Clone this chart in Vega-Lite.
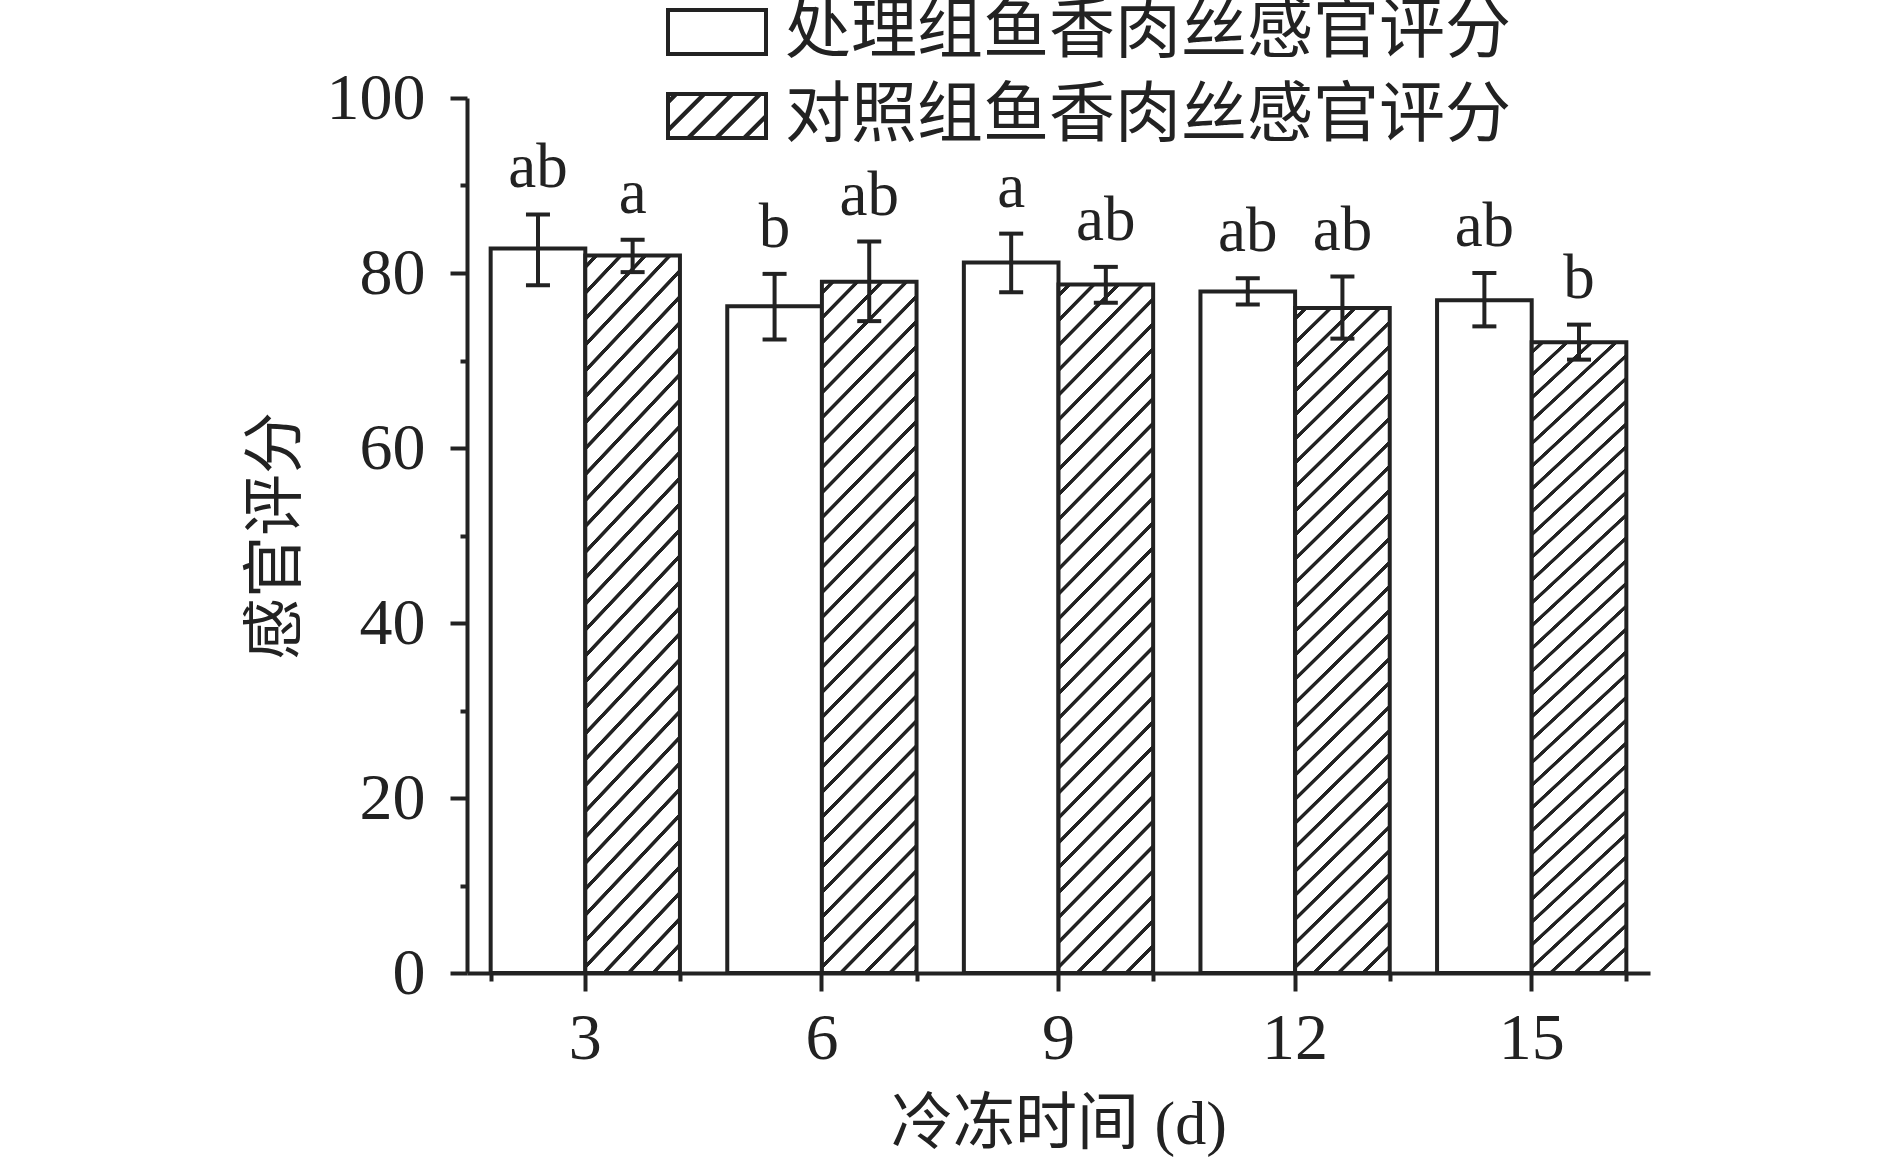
{
  "$schema": "https://vega.github.io/schema/vega-lite/v6.json",
  "width": 1183,
  "height": 875,
  "autosize": {"type": "none"},
  "padding": {"left": 467, "top": 98, "right": 240, "bottom": 188},
  "background": "white",
  "config": {
    "view": {"stroke": null},
    "axis": {
      "domainColor": "#222", "domainWidth": 4, "tickColor": "#222", "tickWidth": 4,
      "labelColor": "#222", "labelFont": "Liberation Serif", "labelFontSize": 66,
      "titleFont": "Liberation Serif, Noto Sans CJK SC", "titleFontSize": 62,
      "titleFontWeight": "normal", "titleColor": "#222", "grid": false
    }
  },
  "data": {
    "values": [
      {"day": 3, "group": "处理组鱼香肉丝感官评分", "score": 82.8, "lo": 78.6, "hi": 86.7, "letter": "ab"},
      {"day": 3, "group": "对照组鱼香肉丝感官评分", "score": 82.0, "lo": 80.1, "hi": 83.8, "letter": "a"},
      {"day": 6, "group": "处理组鱼香肉丝感官评分", "score": 76.2, "lo": 72.4, "hi": 79.9, "letter": "b"},
      {"day": 6, "group": "对照组鱼香肉丝感官评分", "score": 79.0, "lo": 74.5, "hi": 83.6, "letter": "ab"},
      {"day": 9, "group": "处理组鱼香肉丝感官评分", "score": 81.2, "lo": 77.8, "hi": 84.5, "letter": "a"},
      {"day": 9, "group": "对照组鱼香肉丝感官评分", "score": 78.7, "lo": 76.6, "hi": 80.7, "letter": "ab"},
      {"day": 12, "group": "处理组鱼香肉丝感官评分", "score": 77.9, "lo": 76.4, "hi": 79.4, "letter": "ab"},
      {"day": 12, "group": "对照组鱼香肉丝感官评分", "score": 76.0, "lo": 72.5, "hi": 79.6, "letter": "ab"},
      {"day": 15, "group": "处理组鱼香肉丝感官评分", "score": 76.9, "lo": 73.9, "hi": 80.0, "letter": "ab"},
      {"day": 15, "group": "对照组鱼香肉丝感官评分", "score": 72.1, "lo": 70.1, "hi": 74.1, "letter": "b"}
    ]
  },
  "layer": [
    {
      "mark": {"type": "bar", "stroke": "#222", "strokeWidth": 4},
      "encoding": {
        "x": {"field": "day", "type": "ordinal", "scale": {"paddingInner": 0.2, "paddingOuter": 0.1},
          "axis": {"orient": "bottom", "title": "冷冻时间 (d)", "labelAngle": 0, "tickSize": 18, "labelPadding": 15, "titlePadding": 23}},
        "xOffset": {"field": "group", "type": "nominal", "scale": {"domain": ["处理组鱼香肉丝感官评分", "对照组鱼香肉丝感官评分"]}},
        "y": {"field": "score", "type": "quantitative", "scale": {"domain": [0, 100]},
          "axis": {"orient": "left", "title": "感官评分", "values": [0, 20, 40, 60, 80, 100], "tickSize": 17, "labelPadding": 25, "titlePadding": 18}},
        "fill": {
          "field": "group", "type": "nominal",
          "scale": {"domain": ["处理组鱼香肉丝感官评分", "对照组鱼香肉丝感官评分"], "range": ["white", {"expr": "{gradient: 'linear', x1: 0, y1: 0, x2: 1.321, y2: 0.593, stops: [{offset: 0.03, color: '#fff'}, {offset: 0.036, color: '#222'}, {offset: 0.069, color: '#222'}, {offset: 0.075, color: '#fff'}, {offset: 0.21, color: '#fff'}, {offset: 0.216, color: '#222'}, {offset: 0.249, color: '#222'}, {offset: 0.255, color: '#fff'}, {offset: 0.39, color: '#fff'}, {offset: 0.396, color: '#222'}, {offset: 0.429, color: '#222'}, {offset: 0.435, color: '#fff'}, {offset: 0.57, color: '#fff'}, {offset: 0.576, color: '#222'}, {offset: 0.609, color: '#222'}, {offset: 0.615, color: '#fff'}, {offset: 0.75, color: '#fff'}, {offset: 0.756, color: '#222'}, {offset: 0.789, color: '#222'}, {offset: 0.795, color: '#fff'}, {offset: 0.93, color: '#fff'}, {offset: 0.936, color: '#222'}, {offset: 0.969, color: '#222'}, {offset: 0.975, color: '#fff'}]}"}]},
          "condition": {"test": "datum.group === '对照组鱼香肉丝感官评分'", "value": {
            "gradient": "linear", "x1": 0, "y1": 0, "x2": 0.1647, "y2": 1.181,
            "stops": [
              {"offset":0.010,"color":"#fff"},{"offset":0.011,"color":"#222"},{"offset":0.016,"color":"#222"},{"offset":0.017,"color":"#fff"},
              {"offset":0.040,"color":"#fff"},{"offset":0.041,"color":"#222"},{"offset":0.046,"color":"#222"},{"offset":0.047,"color":"#fff"},
              {"offset":0.070,"color":"#fff"},{"offset":0.071,"color":"#222"},{"offset":0.076,"color":"#222"},{"offset":0.077,"color":"#fff"},
              {"offset":0.100,"color":"#fff"},{"offset":0.101,"color":"#222"},{"offset":0.106,"color":"#222"},{"offset":0.107,"color":"#fff"},
              {"offset":0.130,"color":"#fff"},{"offset":0.131,"color":"#222"},{"offset":0.136,"color":"#222"},{"offset":0.137,"color":"#fff"},
              {"offset":0.160,"color":"#fff"},{"offset":0.161,"color":"#222"},{"offset":0.166,"color":"#222"},{"offset":0.167,"color":"#fff"},
              {"offset":0.190,"color":"#fff"},{"offset":0.191,"color":"#222"},{"offset":0.196,"color":"#222"},{"offset":0.197,"color":"#fff"},
              {"offset":0.220,"color":"#fff"},{"offset":0.221,"color":"#222"},{"offset":0.226,"color":"#222"},{"offset":0.227,"color":"#fff"},
              {"offset":0.250,"color":"#fff"},{"offset":0.251,"color":"#222"},{"offset":0.256,"color":"#222"},{"offset":0.257,"color":"#fff"},
              {"offset":0.280,"color":"#fff"},{"offset":0.281,"color":"#222"},{"offset":0.286,"color":"#222"},{"offset":0.287,"color":"#fff"},
              {"offset":0.310,"color":"#fff"},{"offset":0.311,"color":"#222"},{"offset":0.316,"color":"#222"},{"offset":0.317,"color":"#fff"},
              {"offset":0.340,"color":"#fff"},{"offset":0.341,"color":"#222"},{"offset":0.346,"color":"#222"},{"offset":0.347,"color":"#fff"},
              {"offset":0.370,"color":"#fff"},{"offset":0.371,"color":"#222"},{"offset":0.376,"color":"#222"},{"offset":0.377,"color":"#fff"},
              {"offset":0.400,"color":"#fff"},{"offset":0.401,"color":"#222"},{"offset":0.406,"color":"#222"},{"offset":0.407,"color":"#fff"},
              {"offset":0.430,"color":"#fff"},{"offset":0.431,"color":"#222"},{"offset":0.436,"color":"#222"},{"offset":0.437,"color":"#fff"},
              {"offset":0.460,"color":"#fff"},{"offset":0.461,"color":"#222"},{"offset":0.466,"color":"#222"},{"offset":0.467,"color":"#fff"},
              {"offset":0.490,"color":"#fff"},{"offset":0.491,"color":"#222"},{"offset":0.496,"color":"#222"},{"offset":0.497,"color":"#fff"},
              {"offset":0.520,"color":"#fff"},{"offset":0.521,"color":"#222"},{"offset":0.526,"color":"#222"},{"offset":0.527,"color":"#fff"},
              {"offset":0.550,"color":"#fff"},{"offset":0.551,"color":"#222"},{"offset":0.556,"color":"#222"},{"offset":0.557,"color":"#fff"},
              {"offset":0.580,"color":"#fff"},{"offset":0.581,"color":"#222"},{"offset":0.586,"color":"#222"},{"offset":0.587,"color":"#fff"},
              {"offset":0.610,"color":"#fff"},{"offset":0.611,"color":"#222"},{"offset":0.616,"color":"#222"},{"offset":0.617,"color":"#fff"},
              {"offset":0.640,"color":"#fff"},{"offset":0.641,"color":"#222"},{"offset":0.646,"color":"#222"},{"offset":0.647,"color":"#fff"},
              {"offset":0.670,"color":"#fff"},{"offset":0.671,"color":"#222"},{"offset":0.676,"color":"#222"},{"offset":0.677,"color":"#fff"},
              {"offset":0.700,"color":"#fff"},{"offset":0.701,"color":"#222"},{"offset":0.706,"color":"#222"},{"offset":0.707,"color":"#fff"},
              {"offset":0.730,"color":"#fff"},{"offset":0.731,"color":"#222"},{"offset":0.736,"color":"#222"},{"offset":0.737,"color":"#fff"},
              {"offset":0.760,"color":"#fff"},{"offset":0.761,"color":"#222"},{"offset":0.766,"color":"#222"},{"offset":0.767,"color":"#fff"},
              {"offset":0.790,"color":"#fff"},{"offset":0.791,"color":"#222"},{"offset":0.796,"color":"#222"},{"offset":0.797,"color":"#fff"},
              {"offset":0.820,"color":"#fff"},{"offset":0.821,"color":"#222"},{"offset":0.826,"color":"#222"},{"offset":0.827,"color":"#fff"},
              {"offset":0.850,"color":"#fff"},{"offset":0.851,"color":"#222"},{"offset":0.856,"color":"#222"},{"offset":0.857,"color":"#fff"},
              {"offset":0.880,"color":"#fff"},{"offset":0.881,"color":"#222"},{"offset":0.886,"color":"#222"},{"offset":0.887,"color":"#fff"},
              {"offset":0.910,"color":"#fff"},{"offset":0.911,"color":"#222"},{"offset":0.916,"color":"#222"},{"offset":0.917,"color":"#fff"},
              {"offset":0.940,"color":"#fff"},{"offset":0.941,"color":"#222"},{"offset":0.946,"color":"#222"},{"offset":0.947,"color":"#fff"},
              {"offset":0.970,"color":"#fff"},{"offset":0.971,"color":"#222"},{"offset":0.976,"color":"#222"},{"offset":0.977,"color":"#fff"}
            ]}},
          "legend": {
            "orient": "none", "legendX": 199, "legendY": -117, "title": null, "padding": 0,
            "direction": "vertical",
            "symbolType": "M-1,-0.449H1V0.449H-1Z", "symbolSize": 9604,
            "symbolStrokeColor": "#222", "symbolStrokeWidth": 4, "symbolOpacity": 1,
            "labelFont": "Noto Sans CJK SC", "labelFontSize": 66, "labelColor": "#222",
            "labelOffset": 17, "labelLimit": 1000, "rowPadding": -20
          }
        }
      }
    },
    {
      "mark": {"type": "rule", "stroke": "#222", "strokeWidth": 4},
      "encoding": {
        "x": {"field": "day", "type": "ordinal", "axis": null},
        "xOffset": {"field": "group", "type": "nominal"},
        "y": {"field": "lo", "type": "quantitative", "scale": {"domain": [0, 100]}, "axis": null},
        "y2": {"field": "hi"}
      }
    },
    {
      "mark": {"type": "tick", "orient": "horizontal", "color": "#222", "opacity": 1, "size": 24, "thickness": 4},
      "encoding": {
        "x": {"field": "day", "type": "ordinal", "axis": null},
        "xOffset": {"field": "group", "type": "nominal"},
        "y": {"field": "lo", "type": "quantitative", "scale": {"domain": [0, 100]}, "axis": null}
      }
    },
    {
      "mark": {"type": "tick", "orient": "horizontal", "color": "#222", "opacity": 1, "size": 24, "thickness": 4},
      "encoding": {
        "x": {"field": "day", "type": "ordinal", "axis": null},
        "xOffset": {"field": "group", "type": "nominal"},
        "y": {"field": "hi", "type": "quantitative", "scale": {"domain": [0, 100]}, "axis": null}
      }
    },
    {
      "mark": {"type": "text", "font": "Liberation Serif", "fontSize": 63, "color": "#222", "baseline": "alphabetic", "dy": -27},
      "encoding": {
        "x": {"field": "day", "type": "ordinal", "axis": null},
        "xOffset": {"field": "group", "type": "nominal"},
        "y": {"field": "hi", "type": "quantitative", "scale": {"domain": [0, 100]}, "axis": null},
        "text": {"field": "letter"}
      }
    },
    {
      "mark": {"type": "point", "opacity": 0},
      "encoding": {
        "x": {"field": "day", "type": "ordinal",
          "axis": {"orient": "bottom", "tickBand": "extent", "labels": false, "domain": false, "title": null, "tickSize": 8}},
        "y": {"field": "score", "type": "quantitative", "scale": {"domain": [0, 100]},
          "axis": {"orient": "left", "values": [10, 30, 50, 70, 90], "labels": false, "domain": false, "title": null, "tickSize": 7}}
      }
    }
  ],
  "resolve": {"axis": {"x": "independent", "y": "independent"}}
}
